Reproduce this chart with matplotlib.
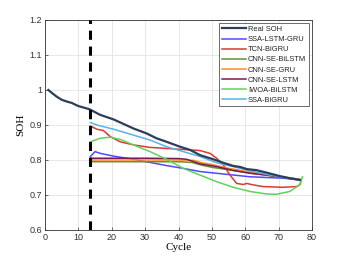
import matplotlib.pyplot as plt

# values
real_cycle = [1, 2, 3.5, 5, 6.5, 8, 10, 13.3, 16.5, 20.5, 23.5, 26.5, 30.4, 33.4, 36.4, 40.4,
              43.4, 46.4, 50.4, 53.4, 56.4, 58.5, 60.4, 63.3, 66.3, 70.3, 73.3, 76.3]
real_soh = [1.0, 0.992, 0.981, 0.972, 0.967, 0.963, 0.954, 0.945, 0.929, 0.916, 0.903, 0.890,
            0.876, 0.862, 0.852, 0.838, 0.829, 0.814, 0.802, 0.792, 0.783, 0.780, 0.774, 0.771,
            0.764, 0.754, 0.748, 0.743]

ssa_lstm_gru_cycle = [13.6, 15, 16.5, 20.5, 26.5, 31.4, 36.4, 41.4, 46.4, 51.4, 56.4, 61.4, 66.3, 71.3, 76.3]
ssa_lstm_gru = [0.810, 0.824, 0.819, 0.811, 0.802, 0.793, 0.784, 0.776, 0.767, 0.762, 0.757, 0.752, 0.750, 0.748, 0.743]

tcn_bigru_cycle = [13.6, 15.5, 17.5, 19.5, 22.5, 26.5, 31.4, 36.4, 41.4, 46.4, 49.4, 51.4, 53.4, 55.4,
                   57.4, 59.4, 60.4, 62.3, 65.3, 71.3, 75.3, 76.3, 76.8]
tcn_bigru = [0.897, 0.888, 0.884, 0.867, 0.852, 0.843, 0.836, 0.833, 0.830, 0.827, 0.819, 0.805,
             0.786, 0.757, 0.733, 0.730, 0.733, 0.729, 0.724, 0.722, 0.724, 0.729, 0.743]

cnn_se_bilstm_cycle = [13.6, 20, 30, 40, 44, 47, 50, 55, 60, 65, 70, 76.3]
cnn_se_bilstm = [0.795, 0.795, 0.795, 0.795, 0.793, 0.785, 0.779, 0.772, 0.765, 0.758, 0.752, 0.745]

cnn_se_gru_cycle = [13.6, 20, 30, 40, 44.5, 47, 50, 55, 60, 65, 70, 76.3]
cnn_se_gru = [0.800, 0.800, 0.800, 0.800, 0.799, 0.792, 0.787, 0.776, 0.768, 0.760, 0.753, 0.745]

cnn_se_lstm_cycle = [13.6, 20, 30, 40, 42.4, 46.4, 51.4, 56.4, 61.4, 66.3, 71.3, 76.3]
cnn_se_lstm = [0.805, 0.805, 0.805, 0.804, 0.802, 0.789, 0.781, 0.770, 0.762, 0.757, 0.750, 0.743]

iwoa_bilstm_cycle = [13.6, 16.5, 19.5, 22.5, 26.5, 31.4, 36.4, 41.4, 46.4, 51.4, 56.4, 61.4,
                     66.3, 69.3, 73.3, 76.3, 77.1]
iwoa_bilstm = [0.852, 0.862, 0.865, 0.859, 0.843, 0.824, 0.802, 0.776, 0.757, 0.738, 0.722, 0.710,
               0.703, 0.702, 0.710, 0.729, 0.752]

ssa_bigru_cycle = [13.6, 15.5, 20.5, 26.5, 31.4, 36.4, 41.4, 46.4, 51.4, 56.4, 61.4, 66.3, 71.3, 76.3]
ssa_bigru = [0.907, 0.900, 0.888, 0.871, 0.857, 0.838, 0.824, 0.810, 0.792, 0.781, 0.769, 0.759, 0.750, 0.743]

start_cycle = 13.5

fig = plt.figure(figsize=(3.46, 2.59), dpi=100)
ax = fig.add_axes([0.130, 0.112, 0.772, 0.811])

lw = 1.1
ax.plot(real_cycle, real_soh, color='#2c3e5a', lw=1.6, label='Real SOH', zorder=5)
ax.plot(ssa_lstm_gru_cycle, ssa_lstm_gru, color='#4b4bff', lw=lw, label='SSA-LSTM-GRU')
ax.plot(tcn_bigru_cycle, tcn_bigru, color='#d93a32', lw=lw, label='TCN-BiGRU')
ax.plot(cnn_se_bilstm_cycle, cnn_se_bilstm, color='#6a8e3a', lw=lw, label='CNN-SE-BiLSTM')
ax.plot(cnn_se_gru_cycle, cnn_se_gru, color='#ff8c1a', lw=lw, label='CNN-SE-GRU')
ax.plot(cnn_se_lstm_cycle, cnn_se_lstm, color='#7a1a55', lw=lw, label='CNN-SE-LSTM')
ax.plot(iwoa_bilstm_cycle, iwoa_bilstm, color='#5fd35a', lw=lw, label='IWOA-BiLSTM')
ax.plot(ssa_bigru_cycle, ssa_bigru, color='#5ab3e6', lw=lw, label='SSA-BiGRU')

ax.axvline(start_cycle, color='black', lw=2.2, ls=(0, (3, 2.2)), zorder=6)

ax.set_xlim(0, 80)
ax.set_ylim(0.6, 1.2)
ax.set_xticks(range(0, 81, 10))
ax.set_yticks([0.6, 0.7, 0.8, 0.9, 1.0, 1.1, 1.2])
ax.set_yticklabels(['0.6', '0.7', '0.8', '0.9', '1', '1.1', '1.2'])
ax.grid(True, color='#e3e3e3', lw=0.6)
ax.set_axisbelow(True)
for lab in ax.get_xticklabels() + ax.get_yticklabels():
    lab.set_family('Liberation Sans')
    lab.set_fontsize(6.5)
    lab.set_color('#333333')
ax.tick_params(direction='in', length=2.5, width=0.5, color='#333333', pad=2)
for s in ax.spines.values():
    s.set_linewidth(0.6)
    s.set_color('#333333')

ax.set_xlabel('Cycle', family='Liberation Serif', fontsize=8, labelpad=1)
ax.set_ylabel('SOH', family='Liberation Serif', fontsize=8, labelpad=3)

leg = ax.legend(loc='upper right', bbox_to_anchor=(0.995, 0.995), fancybox=False, framealpha=1,
                edgecolor='#555555', prop={'family': 'Liberation Sans', 'size': 5.4},
                handlelength=3.2, handletextpad=0.3, labelspacing=0.38, borderpad=0.35,
                borderaxespad=0.3)
leg.get_frame().set_linewidth(0.6)
for t in leg.get_texts():
    t.set_color('#222222')

fig.savefig('out.png', dpi=100)
